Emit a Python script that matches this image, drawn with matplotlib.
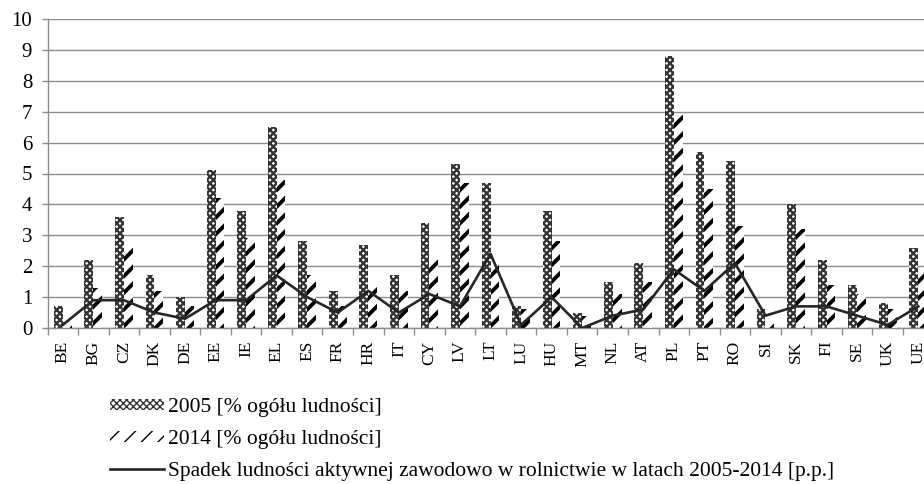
import matplotlib
matplotlib.use("Agg")
import matplotlib.pyplot as plt
import numpy as np

countries = ["BE", "BG", "CZ", "DK", "DE", "EE", "IE", "EL", "ES", "FR", "HR", "IT", "CY", "LV", "LT",
             "LU", "HU", "MT", "NL", "AT", "PL", "PT", "RO", "SI", "SK", "FI", "SE", "UK", "UE"]
share_2005 = [0.7, 2.2, 3.6, 1.7, 1.0, 5.1, 3.8, 6.5, 2.8, 1.2, 2.7, 1.7, 3.4, 5.3, 4.7,
              0.7, 3.8, 0.5, 1.5, 2.1, 8.8, 5.7, 5.4, 0.6, 4.0, 2.2, 1.4, 0.8, 2.6]
share_2014 = [0.2, 1.3, 2.7, 1.2, 0.7, 4.2, 2.9, 4.8, 1.7, 0.7, 1.4, 1.2, 2.3, 4.7, 2.1,
              0.6, 2.8, 0.4, 1.1, 1.5, 6.9, 4.5, 3.3, 0.2, 3.2, 1.4, 1.1, 0.6, 1.8]
decline = [0.1, 0.9, 0.9, 0.5, 0.3, 0.9, 0.9, 1.7, 1.0, 0.5, 1.2, 0.5, 1.1, 0.7, 2.4,
           0.1, 1.0, 0.0, 0.4, 0.6, 1.9, 1.2, 2.1, 0.4, 0.7, 0.7, 0.4, 0.1, 0.7]
y_ticks = list(range(0, 11))

label_2005 = "2005 [% ogółu ludności]"
label_2014 = "2014 [% ogółu ludności]"
label_line = "Spadek ludności aktywnej zawodowo w rolnictwie w latach 2005-2014 [p.p.]"

plt.rcParams["font.family"] = ["Liberation Serif", "DejaVu Serif"]
plt.rcParams["font.size"] = 15

W, H = 924, 484
fig = plt.figure(figsize=(W / 100, H / 100), dpi=100)
ax = fig.add_axes([47.5 / W, 1 - 328 / H, 886 / W, (328 - 19) / H])

x = np.arange(len(countries))
bw = 0.29
grid_c = "#8c8c8c"

with plt.rc_context({"hatch.linewidth": 1.7}):
    b1 = ax.bar(x - bw / 2, share_2005, bw, facecolor="white", edgecolor="#333333",
                hatch="xxxxx", linewidth=0, label=label_2005, zorder=2)
with plt.rc_context({"hatch.linewidth": 2.8}):
    b2 = ax.bar(x + bw / 2, share_2014, bw, facecolor="white", edgecolor="black",
                hatch="//", linewidth=0, label=label_2014, zorder=2)
for p in b1:
    if hasattr(p, "set_hatch_linewidth"):
        p.set_hatch_linewidth(1.7)
for p in b2:
    if hasattr(p, "set_hatch_linewidth"):
        p.set_hatch_linewidth(2.8)

ln, = ax.plot(x, decline, color="#262626", lw=1.9, label=label_line, zorder=3)

ax.set_xlim(-0.5, len(countries) - 0.5)
ax.set_ylim(0, 10)
ax.set_yticks(y_ticks)
ax.yaxis.grid(True, color=grid_c, lw=1.0)
ax.set_axisbelow(True)

ax.set_xticks(np.arange(len(countries) + 1) - 0.5)
ax.set_xticklabels([])
ax.set_xticks(x, minor=True)
ax.set_xticklabels(countries, minor=True, rotation=90)
ax.tick_params(axis="x", which="major", length=5, color=grid_c, width=1.0)
ax.tick_params(axis="x", which="minor", length=0, pad=9, labelsize=12.5)
ax.tick_params(axis="y", length=4, color=grid_c, width=1.0, pad=7, labelsize=15)

for s in ["top", "right"]:
    ax.spines[s].set_visible(False)
for s in ["left", "bottom"]:
    ax.spines[s].set_color(grid_c)
    ax.spines[s].set_linewidth(1.0)

fig.legend(handles=[b1, b2, ln], labels=[label_2005, label_2014, label_line],
           loc="upper left", bbox_to_anchor=(110 / W, 1 - 398 / H), frameon=False,
           fontsize=15.5, handlelength=2.5, handleheight=0.4, handletextpad=0.2,
           labelspacing=0.6, borderpad=0, borderaxespad=0)

fig.savefig("out.png", dpi=100)
